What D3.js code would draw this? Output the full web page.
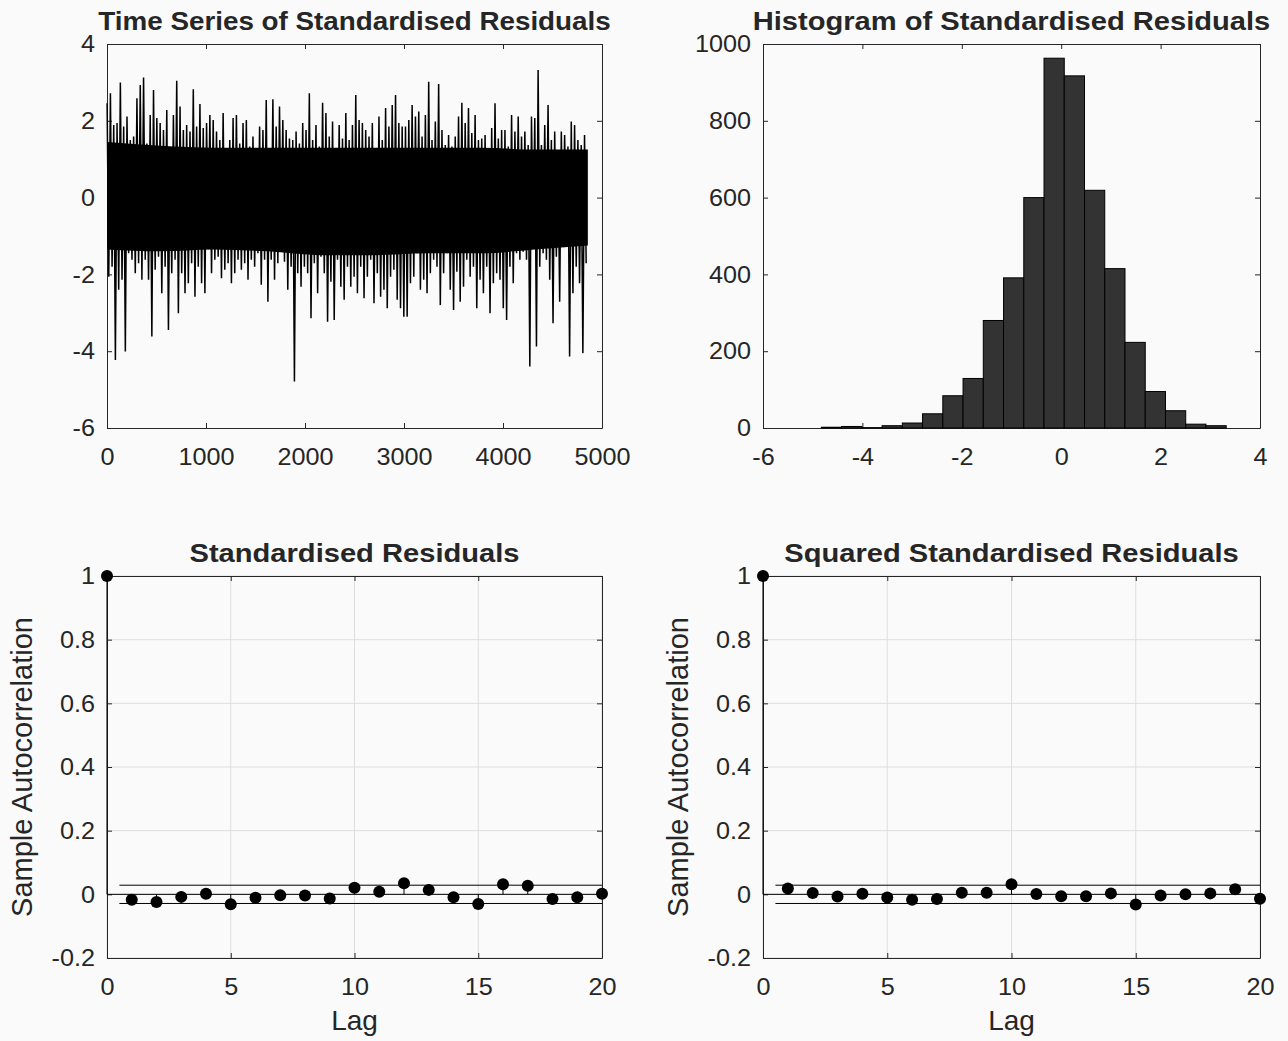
<!DOCTYPE html>
<html lang="en">
<head>
<meta charset="utf-8" />
<title>Standardised residual diagnostics</title>
<script src="https://cdnjs.cloudflare.com/ajax/libs/d3/7.8.5/d3.min.js"></script>
<style>
  body { margin: 0; background: #fafafa; }
  svg text { font-family: "Liberation Sans", Arial, sans-serif; fill: #262626; }
</style>
</head>
<body>
<div id="chart"></div>
<script>
const tsLength = 4856;
const tsHigh = [
  2.46, 2.72, 1.89, 1.94, 3.0, 1.85, 2.11, 1.5, 1.59, 2.59, 2.93, 3.13, 1.41, 2.15, 2.8,
  2.07, 1.94, 1.76, 2.28, 1.24, 2.15, 3.04, 2.37, 1.76, 1.89, 1.72, 2.82, 1.85, 2.44, 1.81,
  1.94, 2.15, 2.02, 1.72, 1.5, 2.2, 1.24, 1.5, 2.07, 2.15, 1.41, 1.94, 2.02, 1.33, 1.59,
  1.07, 1.85, 1.76, 2.54, 1.24, 2.56, 1.85, 2.37, 2.02, 1.76, 1.54, 1.5, 1.72, 1.41, 1.94,
  1.76, 2.72, 1.5, 1.89, 1.33, 2.47, 2.2, 1.59, 1.98, 1.24, 1.89, 1.54, 2.2, 1.5, 1.89,
  2.67, 2.02, 1.94, 1.76, 1.59, 1.94, 1.24, 2.11, 1.5, 2.33, 1.85, 2.41, 2.67, 1.94, 1.85,
  1.85, 2.02, 2.41, 2.11, 2.24, 1.59, 2.15, 3.02, 1.5, 1.98, 2.96, 1.76, 1.37, 1.63, 1.33,
  1.59, 2.11, 2.47, 1.94, 2.33, 1.68, 2.15, 1.5, 1.54, 1.63, 1.24, 1.81, 2.46, 1.54, 1.76,
  1.76, 1.33, 2.15, 1.72, 2.11, 1.59, 1.72, 1.37, 2.11, 2.07, 3.32, 1.37, 1.89, 2.41, 1.5,
  1.72, 1.15, 1.72, 1.63, 1.33, 1.98, 1.89, 1.5, 1.37, 1.63
];
const tsLow = [
  -2.06, -1.8, -4.23, -2.4, -2.14, -4.01, -1.45, -1.62, -1.97, -1.71, -2.14, -1.62, -2.14, -3.62, -1.88,
  -1.54, -2.49, -1.8, -3.45, -1.97, -1.62, -3.01, -1.97, -2.49, -2.23, -1.71, -2.58, -1.8, -2.23, -2.49,
  -1.28, -1.97, -1.62, -1.54, -2.1, -1.88, -1.71, -2.23, -1.97, -1.62, -1.88, -1.71, -2.14, -1.62, -1.8,
  -1.45, -2.27, -1.62, -2.71, -1.62, -2.14, -1.71, -1.19, -1.67, -2.4, -1.8, -4.79, -1.97, -2.32, -1.8,
  -1.97, -3.14, -1.71, -2.49, -1.54, -1.97, -3.23, -2.19, -3.19, -1.62, -2.32, -2.66, -1.8, -2.32, -2.06,
  -2.49, -1.8, -2.62, -2.06, -1.62, -2.75, -1.97, -2.58, -2.4, -2.88, -2.06, -1.88, -2.66, -2.88, -3.1,
  -3.1, -2.23, -2.06, -1.45, -2.4, -2.14, -2.49, -1.97, -1.62, -1.8, -2.8, -1.97, -1.45, -2.4, -2.93,
  -1.93, -2.71, -2.32, -1.62, -2.06, -1.8, -2.88, -2.14, -2.49, -1.8, -3.01, -2.23, -1.97, -2.14, -2.88,
  -3.19, -1.8, -2.23, -1.45, -1.62, -1.41, -1.62, -4.4, -1.1, -3.88, -1.8, -1.45, -1.62, -2.14, -3.27,
  -1.54, -2.71, -1.28, -1.1, -4.14, -2.49, -1.8, -2.23, -4.05, -1.71
];
// dense black core of the trace (where the line overplots almost completely), per ~485 obs
const tsCoreHigh = [1.45, 1.35, 1.3, 1.3, 1.3, 1.3, 1.3, 1.3, 1.25, 1.25];
const tsCoreLow = [-1.35, -1.4, -1.35, -1.4, -1.5, -1.5, -1.45, -1.45, -1.35, -1.25];

// histogram (20 bins between min and max of the residuals)
const histStart = -4.826;
const histWidth = 0.4073;
const histCounts = [2, 4, 1, 6, 13, 37, 84, 129, 280, 391, 600, 963, 917, 619, 415, 223, 95, 45, 10, 6];

// sample autocorrelations
const lags = [0, 1, 2, 3, 4, 5, 6, 7, 8, 9, 10, 11, 12, 13, 14, 15, 16, 17, 18, 19, 20];
const acfResid = [1, -0.017, -0.024, -0.008, 0.002, -0.031, -0.011, -0.003, -0.004, -0.013, 0.021,
  0.008, 0.035, 0.014, -0.009, -0.030, 0.032, 0.027, -0.015, -0.009, 0.002];
const acfSquared = [1, 0.018, 0.004, -0.007, 0.002, -0.010, -0.017, -0.015, 0.005, 0.005, 0.032,
  0.001, -0.006, -0.006, 0.003, -0.032, -0.004, 0.0, 0.003, 0.016, -0.014];
const acfBound = 0.0287;

const tsXTicks = [0, 1000, 2000, 3000, 4000, 5000];
const tsYTicks = [-6, -4, -2, 0, 2, 4];
const histXTicks = [-6, -4, -2, 0, 2, 4];
const histYTicks = [0, 200, 400, 600, 800, 1000];
const acfXTicks = [0, 5, 10, 15, 20];
const acfYTicks = [-0.2, 0, 0.2, 0.4, 0.6, 0.8, 1];
const acfYLabels = ['-0.2', '0', '0.2', '0.4', '0.6', '0.8', '1'];

const ink = '#262626';
const fmtMinus = d => String(d).replace('\u2212', '-');

// the reference font runs a little wider than Liberation Sans
function stretch(sel, sx) {
  sel.each(function () {
    const t = d3.select(this);
    const x = +t.attr('x') || 0;
    t.attr('transform', `translate(${x},0) scale(${sx},1) translate(${-x},0)`);
  });
}

const svg = d3.select('#chart')
  .append('svg')
  .attr('width', 1288)
  .attr('height', 1041);

svg.append('rect')
  .attr('width', 1288)
  .attr('height', 1041)
  .attr('fill', '#fafafa');

function panel(box, xDomain, yDomain, xTicks, yTicks, opts) {
  const x = d3.scaleLinear().domain(xDomain).range([box.left, box.left + box.width]);
  const y = d3.scaleLinear().domain(yDomain).range([box.top + box.height, box.top]);
  const g = svg.append('g');

  if (opts.grid) {
    g.append('g').selectAll('line')
      .data(xTicks)
      .join('line')
        .attr('x1', d => x(d)).attr('x2', d => x(d))
        .attr('y1', box.top).attr('y2', box.top + box.height)
        .attr('stroke', '#dedede');
    g.append('g').selectAll('line')
      .data(yTicks)
      .join('line')
        .attr('x1', box.left).attr('x2', box.left + box.width)
        .attr('y1', d => y(d)).attr('y2', d => y(d))
        .attr('stroke', '#dedede');
  }

  const xLab = opts.xLabels || xTicks.map(fmtMinus);
  const yLab = opts.yLabels || yTicks.map(fmtMinus);

  const axes = [
    [d3.axisBottom(x).tickValues(xTicks).tickFormat((d, i) => xLab[i]).tickPadding(20), `translate(0,${box.top + box.height})`],
    [d3.axisTop(x).tickValues(xTicks).tickFormat(''), `translate(0,${box.top})`],
    [d3.axisLeft(y).tickValues(yTicks).tickFormat((d, i) => yLab[i]).tickPadding(12), `translate(${box.left},0)`],
    [d3.axisRight(y).tickValues(yTicks).tickFormat(''), `translate(${box.left + box.width},0)`],
  ];
  axes.forEach(([ax, tr]) => {
    const a = g.append('g')
      .attr('transform', tr)
      .call(ax.tickSizeInner(-5).tickSizeOuter(0));
    a.selectAll('path, line').attr('stroke', ink);
    const t = a.selectAll('text').attr('font-size', 24).attr('fill', ink)
      .attr('font-family', '"Liberation Sans", Arial, sans-serif');
    stretch(t, 1.05);
  });

  const title = svg.append('text')
    .attr('x', box.left + box.width / 2)
    .attr('y', box.top - 14)
    .attr('text-anchor', 'middle')
    .attr('font-size', 26)
    .attr('font-weight', 'bold')
    .attr('fill', '#000')
    .text(opts.title);
  stretch(title, opts.titleStretch || 1.12);

  if (opts.xTitle) {
    svg.append('text')
      .attr('x', box.left + box.width / 2)
      .attr('y', box.top + box.height + 72)
      .attr('text-anchor', 'middle')
      .attr('font-size', 28)
      .text(opts.xTitle);
  }
  if (opts.yTitle) {
    svg.append('text')
      .attr('transform', `translate(${box.left - 75},${box.top + box.height / 2}) rotate(-90)`)
      .attr('text-anchor', 'middle')
      .attr('font-size', 29)
      .text(opts.yTitle);
  }
  return { x, y, g: svg.append('g') };
}

// --- time series
const ts = panel({ left: 107, top: 44, width: 495, height: 384 }, [0, 5000], [-6, 4], tsXTicks, tsYTicks,
  { title: 'Time Series of Standardised Residuals', titleStretch: 1.07 });
const coreStep = tsLength / (tsCoreHigh.length - 1);
ts.g.append('path')
  .attr('d', d3.area()
    .x((d, i) => ts.x(1 + i * coreStep))
    .y0((d, i) => ts.y(tsCoreLow[i]))
    .y1(d => ts.y(d))
    .curve(d3.curveMonotoneX)(tsCoreHigh))
  .attr('fill', '#000');
const nb = tsHigh.length;
const step = tsLength / nb;
const tsPoints = [];
tsHigh.forEach((h, i) => {
  tsPoints.push([1 + i * step, h]);
  tsPoints.push([1 + (i + 0.5) * step, tsLow[i]]);
});
ts.g.append('path')
  .attr('d', d3.line().x(d => ts.x(d[0])).y(d => ts.y(d[1]))(tsPoints))
  .attr('fill', 'none')
  .attr('stroke', '#000')
  .attr('stroke-width', 1.5);

// --- histogram
const hi = panel({ left: 763, top: 44, width: 497, height: 384 }, [-6, 4], [0, 1000], histXTicks, histYTicks,
  { title: 'Histogram of Standardised Residuals' });
hi.g.selectAll('rect')
  .data(histCounts)
  .join('rect')
    .attr('x', (d, i) => hi.x(histStart + i * histWidth))
    .attr('width', (d, i) => hi.x(histStart + (i + 1) * histWidth) - hi.x(histStart + i * histWidth))
    .attr('y', d => hi.y(d))
    .attr('height', d => hi.y(0) - hi.y(d))
    .attr('fill', '#333333')
    .attr('stroke', '#000')
    .attr('stroke-width', 1);

// --- autocorrelation panels
function acfPanel(box, values, title) {
  const p = panel(box, [0, 20], [-0.2, 1], acfXTicks, acfYTicks,
    { title, grid: true, yLabels: acfYLabels, xTitle: 'Lag', yTitle: 'Sample Autocorrelation' });
  p.g.append('line')
    .attr('x1', p.x(0)).attr('x2', p.x(20))
    .attr('y1', p.y(0)).attr('y2', p.y(0))
    .attr('stroke', '#000');
  [acfBound, -acfBound].forEach(b => {
    p.g.append('line')
      .attr('x1', p.x(0.5)).attr('x2', p.x(20))
      .attr('y1', p.y(b)).attr('y2', p.y(b))
      .attr('stroke', '#000');
  });
  p.g.selectAll('line.stem')
    .data(values)
    .join('line')
      .attr('class', 'stem')
      .attr('x1', (d, i) => p.x(lags[i])).attr('x2', (d, i) => p.x(lags[i]))
      .attr('y1', p.y(0)).attr('y2', d => p.y(d))
      .attr('stroke', '#000');
  p.g.selectAll('circle')
    .data(values)
    .join('circle')
      .attr('cx', (d, i) => p.x(lags[i]))
      .attr('cy', d => p.y(d))
      .attr('r', 6)
      .attr('fill', '#000');
}

acfPanel({ left: 107, top: 576, width: 495, height: 382 }, acfResid, 'Standardised Residuals');
acfPanel({ left: 763, top: 576, width: 497, height: 382 }, acfSquared, 'Squared Standardised Residuals');
</script>
</body>
</html>
